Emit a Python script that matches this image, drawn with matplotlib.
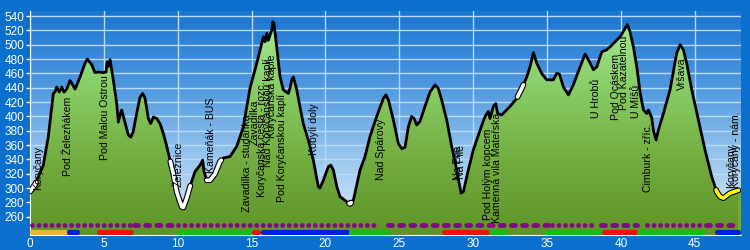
import numpy as np
import matplotlib
matplotlib.use("Agg")
import matplotlib.pyplot as plt
from matplotlib.colors import LinearSegmentedColormap
from matplotlib.patches import Polygon
import matplotlib.patheffects as pe

plt.rcParams['font.family'] = ['Liberation Sans', 'DejaVu Sans']

# vyskovy profil trasy (km, m n.m.)
km = [0.0, 0.34, 0.90, 1.24, 1.58, 1.69, 1.81, 1.98, 2.15, 2.30, 2.48, 2.71, 2.89, 3.05,
      3.39, 3.72, 3.88, 4.18, 4.40, 4.62, 4.96, 5.15, 5.23, 5.33, 5.42, 5.64, 5.87, 5.98,
      6.09, 6.21, 6.32, 6.50, 6.66, 6.82, 6.99, 7.22, 7.45, 7.63, 7.79, 8.01, 8.17, 8.35,
      8.58, 8.80, 9.03, 9.26, 9.48, 9.70, 9.93, 10.27, 10.38, 10.61, 10.83, 11.17, 11.51,
      11.69, 11.78, 11.96, 12.19, 12.53, 12.86, 13.09, 13.54, 13.99, 14.44, 14.90, 15.35,
      15.80, 15.91, 16.03, 16.13, 16.36, 16.43, 16.52, 16.59, 16.70, 16.93, 17.15, 17.49,
      17.60, 17.72, 17.83, 18.06, 18.28, 18.50, 18.84, 19.18, 19.52, 19.63, 19.86, 20.20,
      20.36, 20.54, 20.77, 20.99, 21.33, 21.55, 21.67, 21.89, 22.34, 22.68, 23.02, 23.47,
      23.92, 24.10, 24.26, 24.60, 24.94, 25.17, 25.39, 25.62, 25.84, 26.00, 26.18, 26.40,
      26.74, 27.08, 27.42, 27.64, 27.87, 28.21, 28.55, 28.89, 29.18, 29.34, 29.67, 30.01,
      30.47, 30.81, 31.03, 31.14, 31.37, 31.53, 31.66, 31.94, 32.50, 32.95, 33.29, 33.63,
      33.85, 34.08, 34.31, 34.64, 34.98, 35.43, 35.66, 35.84, 36.11, 36.45, 36.78, 37.24,
      37.58, 37.80, 38.14, 38.37, 38.71, 39.05, 39.27, 39.61, 39.95, 40.29, 40.44, 40.62,
      40.85, 41.08, 41.31, 41.53, 41.76, 41.87, 42.09, 42.20, 42.38, 42.54, 42.88, 43.33,
      43.78, 44.01, 44.23, 44.46, 44.80, 45.25, 45.70, 46.15, 46.49, 46.72, 46.94, 47.39,
      47.96]
elev = [295, 305, 332, 372, 432, 434, 441, 434, 441, 434, 438, 450, 444, 438,
        455, 474, 480, 472, 461, 462, 461, 462, 476, 470, 479, 451, 418, 392,
        402, 409, 400, 386, 374, 371, 379, 404, 427, 432, 425, 397, 390, 399,
        397, 390, 376, 358, 339, 320, 295, 274, 273, 286, 302, 323, 332,
        339, 323, 311, 311, 320, 337, 342, 344, 358, 385, 440, 474,
        511, 504, 516, 506, 520, 532, 530, 516, 497, 455, 437, 432,
        439, 451, 455, 437, 413, 390, 367, 339, 302, 300, 311, 330,
        332, 325, 302, 288, 283, 279, 278, 283, 325, 344, 372, 400,
        425, 430, 423, 395, 362, 355, 357, 386, 400, 397, 388, 393,
        414, 434, 444, 439, 423, 395, 358, 325, 293, 295, 325, 353,
        381, 400, 407, 397, 414, 418, 404, 402, 414, 425, 439, 455,
        469, 489, 474, 460, 451, 451, 460, 459, 441, 430, 444, 469,
        487, 479, 465, 469, 490, 493, 497, 504, 511, 523, 528, 518,
        497, 469, 432, 409, 404, 409, 398, 381, 367, 381, 404, 437,
        488, 500, 493, 474, 437, 395, 353, 316, 295, 288, 286, 293,
        297]

# zvyraznene useky profilu
hl_start = [0.0, 9.5, 11.96, 21.6, 33.0, 46.45]
hl_end = [0.4, 10.85, 12.95, 21.75, 33.4, 47.96]
hl_color = ['white', 'white', 'white', 'white', 'white', '#ffff00']

# povrch cesty (barevne pruhy dole)
srf_start = [0.0, 2.5, 4.5, 9.7, 9.93, 15.0, 15.6, 21.6, 27.9, 31.1, 34.9, 38.7, 41.1, 46.4]
srf_end = [2.5, 3.3, 6.95, 9.93, 15.0, 15.6, 21.6, 24.3, 31.1, 32.3, 38.7, 41.1, 45.7, 48.1]
srf_color = ['#f0b428', '#0020e0', '#f01010', '#f0b428', '#10c010', '#f01010', '#0020e0',
             '#10c010', '#f01010', '#10c010', '#10c010', '#f01010', '#10c010', '#0020e0']

# fialova znacka - tecky / carky
mk_start = [0.0, 6.9, 9.9, 24.1, 35.2, 38.5, 41.6, 45.6]
mk_end = [6.9, 9.9, 23.6, 35.2, 38.5, 41.2, 45.6, 48.0]
mk_kind = ['dot', 'dash', 'dot', 'dash', 'dot', 'dash', 'dot', 'dash']

# nazvy mist
lab_km = [0.54, 2.57, 5.08, 10.09, 12.25, 14.69, 15.2, 15.71, 16.1, 16.35, 17.06, 19.23,
          23.76, 28.95, 29.15, 31.0, 31.6, 38.32, 39.67, 40.2, 41.0, 41.84, 44.14, 47.45, 47.8]
lab_y = [297, 317, 339, 301, 321, 267, 360, 287, 330, 370, 280, 346,
         311, 311, 313, 255, 252, 398, 395, 409, 398, 294, 437, 300, 300]
lab_txt = ['Koryčany', 'Pod Železňákem', 'Pod Malou Ostrou', 'Želežnice', 'Kameňák - BUS',
           'Zavadilka - studánka', 'Zavadilka', 'Koryčanská cesta - rozc.',
           'Nad Koryčanskou kaplí', 'Koryčanská kaple', 'Pod Koryčanskou kaplí', 'Kobylí doly',
           'Nad Spárovy', 'Na Pile', 'Na Pile', 'Pod Holým kopcem', 'Kamenná vila Mateřská',
           'U Hrobů', 'Pod Ocáskem', 'Pod Kazatelnou', 'U Míšů', 'Cimburk - zříc.', 'Vršava',
           'Koryčany', 'Koryčany - nám.']

x_max = 48.1
y_min, y_max = 234.6, 547

fig = plt.figure(figsize=(7.5, 2.5), dpi=100)
fig.patch.set_facecolor('#0b6fce')
ax = fig.add_axes([30 / 750, 15 / 250, 710.5 / 750, 224 / 250])
ax.set_xlim(0, x_max)
ax.set_ylim(y_min, y_max)

# nebe - gradient
sky = LinearSegmentedColormap.from_list('sky', ['#e2eefa', '#9cc8ee', '#4f98e0', '#1a74d2'])
g = np.linspace(0, 1, 256).reshape(-1, 1)
ax.imshow(g, extent=[0, x_max, y_min, y_max], origin='lower', aspect='auto', cmap=sky, zorder=0)

ax.set_xticks(np.arange(0, 46, 5))
ax.set_yticks(np.arange(260, 541, 20))
ax.grid(True, color='#b8daf6', lw=1, zorder=1)
ax.set_axisbelow(True)

# teren - zeleny gradient orezany profilem
verts = [(km[0], y_min)] + list(zip(km, elev)) + [(km[-1], y_min), (x_max, y_min)]
poly = Polygon(verts, closed=True, facecolor='none', edgecolor='none')
ax.add_patch(poly)
grn = LinearSegmentedColormap.from_list('grn', ['#5f9428', '#72ac3e', '#88cc66', '#a6ec96'])
im = ax.imshow(g, extent=[0, x_max, y_min, 540], origin='lower', aspect='auto', cmap=grn, zorder=2)
im.set_clip_path(poly)
ax.fill_between([km[-1], x_max], y_min, elev[-1], color='#70aa3c', zorder=2, lw=0)

ax.plot(km, elev, color='black', lw=2, zorder=3)

# zvyraznene useky
kma = np.array(km)
ela = np.array(elev)
for s, e, c in zip(hl_start, hl_end, hl_color):
    m = (kma >= s) & (kma <= e)
    xs = np.concatenate([[s], kma[m], [e]])
    ys = np.interp(xs, kma, ela)
    ax.plot(xs, ys, color=c, lw=2.6, zorder=4, solid_capstyle='round',
            path_effects=[pe.Stroke(linewidth=4.2, foreground='black'), pe.Normal()])

# povrch
for s, e, c in zip(srf_start, srf_end, srf_color):
    ax.plot([s + 0.14, e - 0.14], [239.3, 239.3], color=c, lw=3.7, solid_capstyle='round', zorder=5)

# znaceni
for s, e, k in zip(mk_start, mk_end, mk_kind):
    if k == 'dot':
        ls = (0, (0.01, 1.33))
    else:
        ls = (0, (0.8, 1.5))
    ax.plot([s + 0.15, e - 0.1], [248.5, 248.5], color='#820a82', lw=3.5, ls=ls,
            dash_capstyle='round', zorder=5)

for x, y, t in zip(lab_km, lab_y, lab_txt):
    ax.text(x, y, t, rotation=90, ha='center', va='bottom', fontsize=7.6, color='black', zorder=6)

for sp in ['top', 'right']:
    ax.spines[sp].set_visible(False)
ax.spines['left'].set_color('white')
ax.spines['bottom'].set_color('white')
ax.tick_params(colors='white', labelsize=8.5, length=3, width=1, pad=1)
ax.tick_params(axis='x', length=0, pad=2)

fig.savefig('out.png', dpi=100, facecolor=fig.get_facecolor())
